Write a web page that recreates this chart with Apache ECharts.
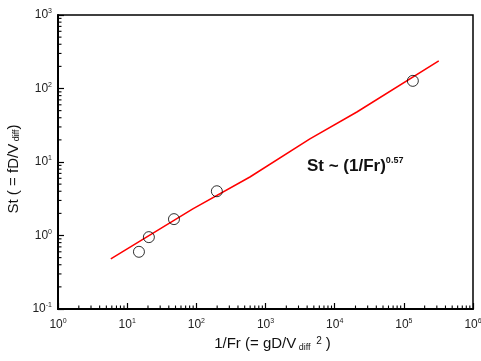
<!DOCTYPE html>
<html>
<head>
<meta charset="utf-8">
<script src="https://cdn.jsdelivr.net/npm/echarts@6/dist/echarts.min.js"></script>
<style>html,body{margin:0;padding:0;background:#fff}#c{width:481px;height:361px}</style>
</head>
<body>
<div id="c"></div>
<script>
// Measured data points (1/Fr, St)
const pointX = [14.8, 20.6, 47.5, 198, 135000];
const pointY = [0.60, 0.95, 1.67, 4.0, 127];
// Fit line St ~ (1/Fr)^0.57
const fitX = [5.8, 89, 595, 4385, 20940, 320000];
const fitY = [0.48, 2.30, 6.25, 20.6, 47.9, 237];
// Axis ranges
const xRange = [1, 1e6];
const yRange = [0.1, 1000];
// Minor tick values
const xMinor = [];
for (let k = 0; k < 6; k++) for (let m = 2; m <= 9; m++) xMinor.push(m * Math.pow(10, k));
const yMinor = [];
for (let k = -1; k < 3; k++) for (let m = 2; m <= 9; m++) yMinor.push(Number((m * Math.pow(10, k)).toPrecision(3)));

const FONT = 'Liberation Sans, Arial, sans-serif';
function powLabel(v) {
  const e = Math.round(Math.log10(v));
  return '{b|10}{s|' + e + '}';
}
const labelRich = {
  b: { fontSize: 12, fontFamily: FONT, color: '#222', lineHeight: 14, verticalAlign: 'middle' },
  s: { fontSize: 7, fontFamily: FONT, color: '#222', lineHeight: 7, verticalAlign: 'top' }
};

const chart = echarts.init(document.getElementById('c'), null, { renderer: 'canvas' });
chart.setOption({
  animation: false,
  backgroundColor: '#fff',
  grid: { left: 58, right: 8, top: 15, bottom: 52, show: true, borderColor: '#000', borderWidth: 1.5, backgroundColor: 'transparent', containLabel: false, outerBoundsMode: 'none' },
  xAxis: {
    type: 'log', logBase: 10, min: xRange[0], max: xRange[1],
    splitLine: { show: false },
    axisLine: { lineStyle: { color: '#000', width: 2 } },
    axisTick: { inside: true, length: 6, lineStyle: { color: '#000', width: 1.2 } },
    axisLabel: { formatter: powLabel, rich: labelRich, margin: 9 },
    name: '{t|1/Fr (= gD/V}{sub| diff}{sup|  2}{t| )}',
    nameLocation: 'middle', nameGap: 24,
    nameTextStyle: {
      padding: [0, 0, 0, 14],
      rich: {
        t: { fontSize: 15, fontFamily: FONT, color: '#111', lineHeight: 16, verticalAlign: 'middle' },
        sub: { fontSize: 9, fontFamily: FONT, color: '#111', lineHeight: 8, verticalAlign: 'bottom' },
        sup: { fontSize: 10, fontFamily: FONT, color: '#111', lineHeight: 8, verticalAlign: 'top' }
      }
    }
  },
  yAxis: {
    type: 'log', logBase: 10, min: yRange[0], max: yRange[1],
    splitLine: { show: false },
    axisLine: { lineStyle: { color: '#000', width: 2 } },
    axisTick: { inside: true, length: 6, lineStyle: { color: '#000', width: 1.2 } },
    axisLabel: { formatter: powLabel, rich: labelRich, margin: 6 },
    name: '{t|St ( = fD/V}{sub| diff}{t|)}',
    nameLocation: 'middle', nameGap: 37, nameRotate: 90,
    nameTextStyle: {
      padding: [0, 14, 0, 0],
      rich: {
        t: { fontSize: 15, fontFamily: FONT, color: '#111', lineHeight: 14, verticalAlign: 'middle' },
        sub: { fontSize: 9, fontFamily: FONT, color: '#111', lineHeight: 8, verticalAlign: 'bottom' }
      }
    }
  },
  series: [
    {
      type: 'line', data: fitX.map((x, i) => [x, fitY[i]]),
      showSymbol: false, symbol: 'none',
      lineStyle: { color: '#ff0000', width: 1.5 }, z: 3
    },
    {
      type: 'scatter', data: pointX.map((x, i) => [x, pointY[i]]),
      symbol: 'circle', symbolSize: 11,
      itemStyle: { color: 'rgba(0,0,0,0)', borderColor: '#000', borderWidth: 1 }, z: 4
    },
    {
      type: 'custom', silent: true, clip: false,
      data: xMinor.map(v => [v, yRange[0]]),
      renderItem: function (params, api) {
        const p = api.coord([api.value(0), api.value(1)]);
        return { type: 'line', shape: { x1: p[0], y1: p[1], x2: p[0], y2: p[1] - 3.5 }, style: { stroke: '#000', lineWidth: 1.1 } };
      }
    },
    {
      type: 'custom', silent: true, clip: false,
      data: yMinor.map(v => [xRange[0], v]),
      renderItem: function (params, api) {
        const p = api.coord([api.value(0), api.value(1)]);
        return { type: 'line', shape: { x1: p[0], y1: p[1], x2: p[0] + 3.5, y2: p[1] }, style: { stroke: '#000', lineWidth: 1.1 } };
      }
    }
  ],
  graphic: [
    {
      type: 'text', left: 307, top: 156,
      style: {
        text: '{m|St ~ (1/Fr)}{e|0.57}',
        rich: {
          m: { fontSize: 17, fontWeight: 'bold', fontFamily: FONT, fill: '#111', lineHeight: 20, verticalAlign: 'middle' },
          e: { fontSize: 9, fontWeight: 'bold', fontFamily: FONT, fill: '#111', lineHeight: 9, verticalAlign: 'top' }
        }
      }
    }
  ]
});
</script>
</body>
</html>
